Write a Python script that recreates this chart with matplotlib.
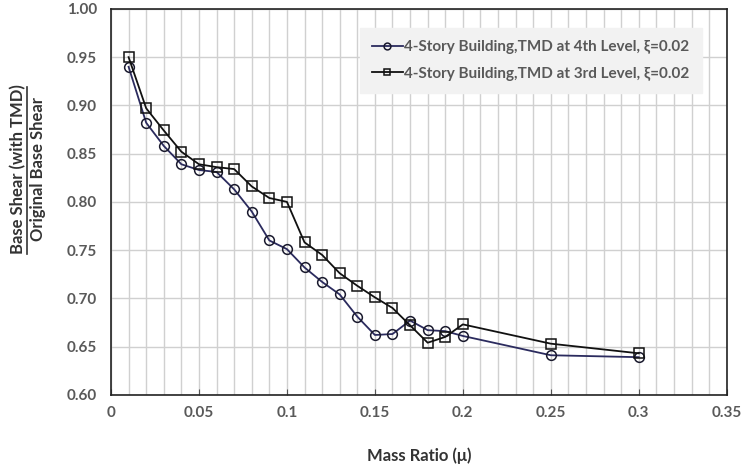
import matplotlib.pyplot as plt
from matplotlib.lines import Line2D
import numpy as np

plt.rcParams['font.family'] = ['Lato', 'DejaVu Sans']

mass_ratio = [0.01, 0.02, 0.03, 0.04, 0.05, 0.06, 0.07, 0.08, 0.09, 0.10, 0.11,
              0.12, 0.13, 0.14, 0.15, 0.16, 0.17, 0.18, 0.19, 0.20, 0.25, 0.30]
tmd_4th = [0.940, 0.882, 0.858, 0.839, 0.833, 0.831, 0.813, 0.790, 0.760, 0.751, 0.732,
           0.717, 0.704, 0.681, 0.662, 0.663, 0.677, 0.667, 0.666, 0.661, 0.641, 0.639]
tmd_3rd = [0.950, 0.897, 0.874, 0.852, 0.839, 0.836, 0.834, 0.816, 0.804, 0.800, 0.758,
           0.745, 0.726, 0.713, 0.701, 0.690, 0.672, 0.654, 0.660, 0.673, 0.653, 0.643]
labels = ['4-Story Building,TMD at 4th Level, \u03be=0.02',
          '4-Story Building,TMD at 3rd Level, \u03be=0.02']

grey = '#595959'
fig = plt.figure(figsize=(7.5, 4.7), dpi=100)
ax = fig.add_axes([0.148, 0.16, 0.821, 0.821])

ax.plot(mass_ratio, tmd_4th, '-o', color='#2b2b5e', lw=1.3, ms=7,
        mfc='none', mec='#1a1a2e', mew=1.1, label=labels[0], zorder=3)
ax.plot(mass_ratio, tmd_3rd, '-s', color='#111111', lw=1.3, ms=7,
        mfc='none', mec='#111111', mew=1.1, label=labels[1], zorder=3)

ax.set_xlim(0, 0.35)
ax.set_ylim(0.6, 1.0)
ax.set_xticks(np.arange(0, 0.351, 0.05))
ax.set_xticklabels(['0', '0.05', '0.1', '0.15', '0.2', '0.25', '0.3', '0.35'])
ax.set_xticks(np.arange(0, 0.351, 0.01), minor=True)
ax.set_yticks(np.arange(0.6, 1.001, 0.05))
ax.set_yticklabels(['%.2f' % v for v in np.arange(0.6, 1.001, 0.05)])
ax.grid(True, which='both', axis='x', color='#d0d0d0', lw=1.0)
ax.grid(True, which='major', axis='y', color='#d0d0d0', lw=1.0)
ax.set_axisbelow(True)
ax.tick_params(axis='x', which='major', direction='in', length=4, color='#555555',
               labelsize=11, labelcolor=grey, pad=8)
ax.tick_params(axis='x', which='minor', length=0)
ax.tick_params(axis='y', length=0, labelsize=11, labelcolor=grey, pad=10)
for t in ax.get_xticklabels() + ax.get_yticklabels():
    t.set_fontweight('bold')
for s in ax.spines.values():
    s.set_color('#222222')
    s.set_linewidth(1.2)

leg = ax.legend(loc='upper right', bbox_to_anchor=(0.972, 0.97), frameon=True,
                fancybox=False, facecolor='#f2f2f2', edgecolor='#f2f2f2',
                framealpha=1, handlelength=2.0, handletextpad=0.1,
                borderpad=0.8, labelspacing=0.8, markerscale=0.7,
                prop={'size': 11, 'weight': 'bold'})
for t in leg.get_texts():
    t.set_color(grey)

ax.set_xlabel('Mass Ratio (\u03bc)', fontsize=12, fontweight='bold', color='#333333', labelpad=20)

# y label drawn as a fraction
fig.text(0.024, 0.64, 'Base Shear (with TMD)', rotation=90, ha='center', va='center',
         fontsize=12, fontweight='bold', color='#333333')
fig.text(0.05, 0.64, 'Original Base Shear', rotation=90, ha='center', va='center',
         fontsize=12, fontweight='bold', color='#333333')
fig.add_artist(Line2D([0.036, 0.036], [0.46, 0.815], transform=fig.transFigure,
                      color='#333333', lw=1.2))

fig.savefig('out.png', dpi=100)
